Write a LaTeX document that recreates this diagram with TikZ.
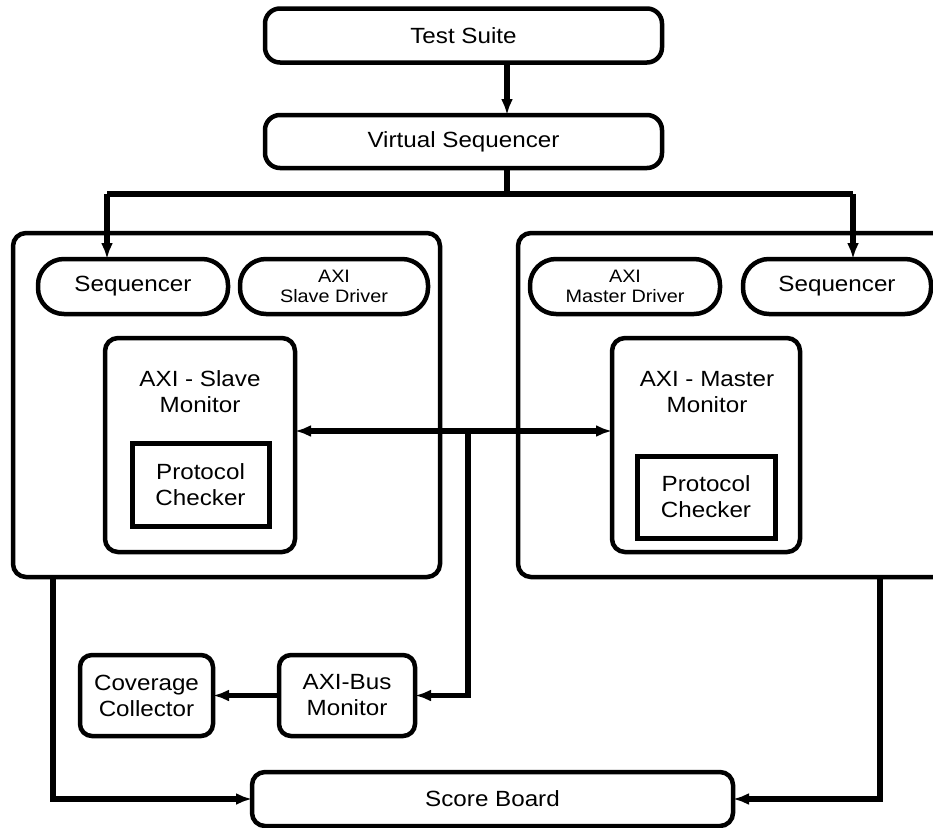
\documentclass[tikz,border=0pt]{standalone}
\usepackage{fontspec}
\setmainfont[FakeStretch=1.1]{Liberation Sans}
\usetikzlibrary{arrows.meta}

\begin{document}
\begin{tikzpicture}[x=1pt,y=-1pt,
  box/.style={draw, line width=4.5pt, rounded corners=#1, inner sep=0pt, outer sep=0pt},
  box/.default=13pt,
  pill/.style={draw, line width=4.5pt, rounded corners=26pt, inner sep=0pt, outer sep=0pt,
    minimum height=55pt, align=center},
  plain/.style={draw, line width=5pt, inner sep=0pt, outer sep=0pt, align=center},
  txt/.style={font=\fontsize{22}{26}\selectfont, align=center},
  small/.style={font=\fontsize{18}{20}\selectfont, align=center},
  conn/.style={line width=5.5pt},
  arr/.style={line width=5.5pt, -{Latex[length=16pt,width=12pt]}},
  darr/.style={line width=5.5pt, {Latex[length=16pt,width=12pt]}-{Latex[length=16pt,width=12pt]}},
]
\useasboundingbox (0,0) rectangle (933,827);
\clip (0,0) rectangle (933,827);

% top level
\node[box=15pt, minimum width=397pt, minimum height=54pt, txt] (ts) at (463.5,35.5) {Test Suite};
\node[box=15pt, minimum width=397pt, minimum height=53pt, txt] (vs) at (463.5,141.5) {Virtual Sequencer};

% slave side
\node[box, minimum width=427pt, minimum height=344pt] (lc) at (226.5,405) {};
\node[pill, minimum width=190pt, txt] (lseq) at (133,286.5) {Sequencer};
\node[pill, minimum width=188pt, small] (sdrv) at (334,286.5) {AXI\\Slave Driver};
\node[box, minimum width=190pt, minimum height=214pt] (smon) at (200,445) {};
\node[txt] (smonT) at (200,392) {AXI - Slave\\Monitor};
\node[plain, minimum width=137pt, minimum height=83pt, txt] (pcl) at (200.5,484.5) {Protocol\\Checker};

% master side
\node[box, minimum width=442pt, minimum height=344pt] (rc) at (739,405) {};
\node[pill, minimum width=190pt, small] (mdrv) at (625,286.5) {AXI\\Master Driver};
\node[pill, minimum width=188pt, txt] (rseq) at (837,286.5) {Sequencer};
\node[box, minimum width=188pt, minimum height=214pt] (mmon) at (706,445) {};
\node[txt] (mmonT) at (707,392) {AXI - Master\\Monitor};
\node[plain, minimum width=138pt, minimum height=82pt, txt] (pcr) at (706,497) {Protocol\\Checker};

% bus monitor, coverage and scoreboard
\node[box=12pt, minimum width=136pt, minimum height=81pt, txt] (abm) at (347,695.5) {AXI-Bus\\Monitor};
\node[box=12pt, minimum width=133pt, minimum height=81pt, txt] (cov) at (146.5,695.5) {Coverage\\Collector};
\node[box=13pt, minimum width=481pt, minimum height=54pt, txt] (sb) at (492.5,799) {Score Board};

% routing points
\coordinate (tsx) at (507,0);
\coordinate (busL) at (107,194);
\coordinate (busR) at (853,194);
\coordinate (busM) at (468,431);
\coordinate (slx) at (53,0);
\coordinate (srx) at (880,0);

% connectors
\draw[arr] (ts.south -| tsx) -- (vs.north -| tsx);
\draw[conn] (vs.south -| tsx) -- (tsx |- busL);
\draw[conn] (busL) -- (busR);
\draw[arr] (busL) -- (busL |- lseq.north);
\draw[arr] (busR) -- (busR |- rseq.north);
\draw[darr] (smon.east |- busM) -- (mmon.west |- busM);
\draw[arr] (busM) |- (abm.east);
\draw[arr] (abm) -- (cov);
\draw[arr] (lc.south -| slx) |- (sb.west);
\draw[arr] (rc.south -| srx) |- (sb.east);
\end{tikzpicture}
\end{document}
